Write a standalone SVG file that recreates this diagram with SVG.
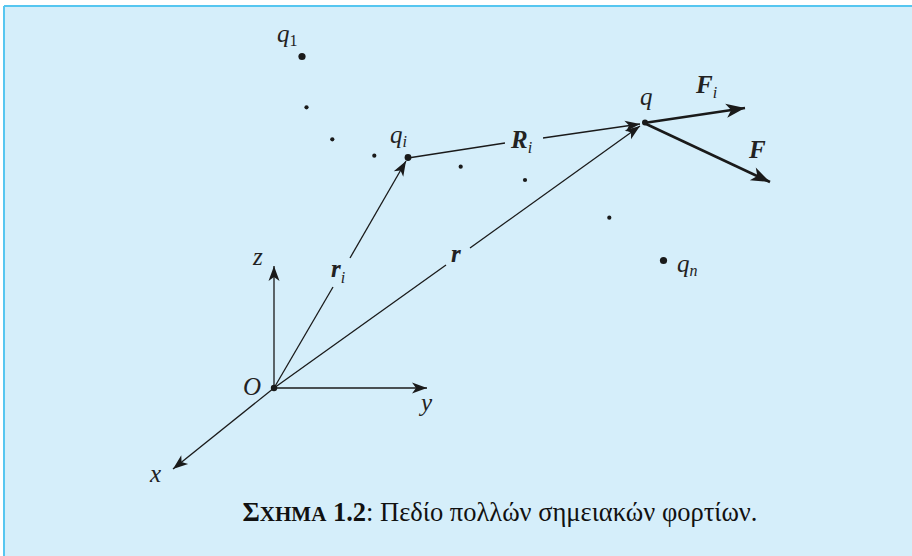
<svg xmlns="http://www.w3.org/2000/svg" width="912" height="556" viewBox="0 0 912 556">
<style>
.ln{stroke:#1a1a1a;stroke-width:1.3;fill:none}
.thk{stroke:#1a1a1a;stroke-width:2.6;fill:none}
.dot{fill:#1a1a1a}
.m{font-family:"Liberation Serif","DejaVu Serif",serif;font-style:italic;font-size:25px;fill:#222}
.v{font-family:"Liberation Serif","DejaVu Serif",serif;font-style:italic;font-weight:bold;font-size:25px;fill:#222}
.sub{font-size:16px;font-weight:normal}
.cap{font-family:"Liberation Serif","Times New Roman",serif;font-size:26.5px;fill:#111}
</style>
<defs>
<marker id="ah" markerUnits="userSpaceOnUse" markerWidth="20" markerHeight="14" viewBox="-16 -7 17 14" refX="0" refY="0" orient="auto">
<path d="M0,0 L-15,-5.5 L-11,0 L-15,5.5 Z" fill="#1a1a1a"/>
</marker>
<marker id="ahb" markerUnits="userSpaceOnUse" markerWidth="24" markerHeight="16" viewBox="-20 -8 21 16" refX="0" refY="0" orient="auto">
<path d="M0,0 L-19,-7 L-14,0 L-19,7 Z" fill="#1a1a1a"/>
</marker>
</defs>
<rect x="0" y="0" width="912" height="556" fill="#ffffff"/>
<rect x="4" y="6" width="910" height="552" fill="#d5eefa"/>
<line x1="4" y1="6" x2="912" y2="6" stroke="#56c6f0" stroke-width="2"/>
<line x1="4" y1="6" x2="4" y2="556" stroke="#56c6f0" stroke-width="2"/>

<g id="connectors">
<line class="ln" x1="274" y1="388" x2="274" y2="266" marker-end="url(#ah)"/>
<line class="ln" x1="274" y1="388" x2="427" y2="388" marker-end="url(#ah)"/>
<line class="ln" x1="274" y1="388" x2="173" y2="469" marker-end="url(#ah)"/>
<line class="ln" x1="274" y1="388" x2="333" y2="287"/>
<line class="ln" x1="350" y1="258" x2="406" y2="161" marker-end="url(#ah)"/>
<line class="ln" x1="274" y1="388" x2="446" y2="265"/>
<line class="ln" x1="470" y1="248" x2="640" y2="126" marker-end="url(#ah)"/>
<line class="ln" x1="408" y1="158" x2="505" y2="143"/>
<line class="ln" x1="543" y1="138" x2="640" y2="124" marker-end="url(#ah)"/>
<line class="thk" x1="644" y1="123" x2="745" y2="108" marker-end="url(#ahb)"/>
<line class="thk" x1="644" y1="123" x2="770" y2="182" marker-end="url(#ahb)"/>
</g>

<g id="O"><circle class="dot" cx="274" cy="388" r="3.2"/><text class="m" x="243" y="395">O</text></g>
<g id="axis-z"><text class="m" x="253" y="265">z</text></g>
<g id="axis-y"><text class="m" x="421" y="411">y</text></g>
<g id="axis-x"><text class="m" x="150" y="482">x</text></g>
<g id="label-ri"><text class="v" x="331" y="277">r<tspan class="sub" dy="6">i</tspan></text></g>
<g id="label-r"><text class="v" x="451" y="262">r</text></g>
<g id="label-Ri"><text class="v" x="511" y="148">R<tspan class="sub" dy="5">i</tspan></text></g>
<g id="label-Fi"><text class="v" x="696" y="93">F<tspan class="sub" dy="5">i</tspan></text></g>
<g id="label-F"><text class="v" x="749" y="158">F</text></g>

<g id="q1"><circle class="dot" cx="302" cy="56.5" r="3.6"/><text class="m" x="277" y="42">q<tspan class="sub" font-style="normal" dy="4">1</tspan></text></g>
<g id="qi"><circle class="dot" cx="408" cy="157.5" r="3.4"/><text class="m" x="390" y="143">q<tspan class="sub" dy="4">i</tspan></text></g>
<g id="q"><circle class="dot" cx="645" cy="122.5" r="3"/><text class="m" x="640" y="105">q</text></g>
<g id="qn"><circle class="dot" cx="663.5" cy="260.5" r="3.6"/><text class="m" x="677" y="272">q<tspan class="sub" dy="4">n</tspan></text></g>
<g id="dots">
<circle class="dot" cx="306.5" cy="107.3" r="2.1"/>
<circle class="dot" cx="332.3" cy="139.3" r="2.1"/>
<circle class="dot" cx="374.3" cy="155.7" r="2.1"/>
<circle class="dot" cx="460.7" cy="166.7" r="2.1"/>
<circle class="dot" cx="525" cy="180" r="2.1"/>
<circle class="dot" cx="609.3" cy="217.7" r="2.1"/>
</g>

<g id="caption"><text class="cap" x="500" y="521" text-anchor="middle"><tspan font-weight="bold">Σ<tspan font-size="21">ΧΗΜΑ</tspan> 1.2</tspan>: Πεδίο πολλών σημειακών φορτίων.</text></g>
</svg>
